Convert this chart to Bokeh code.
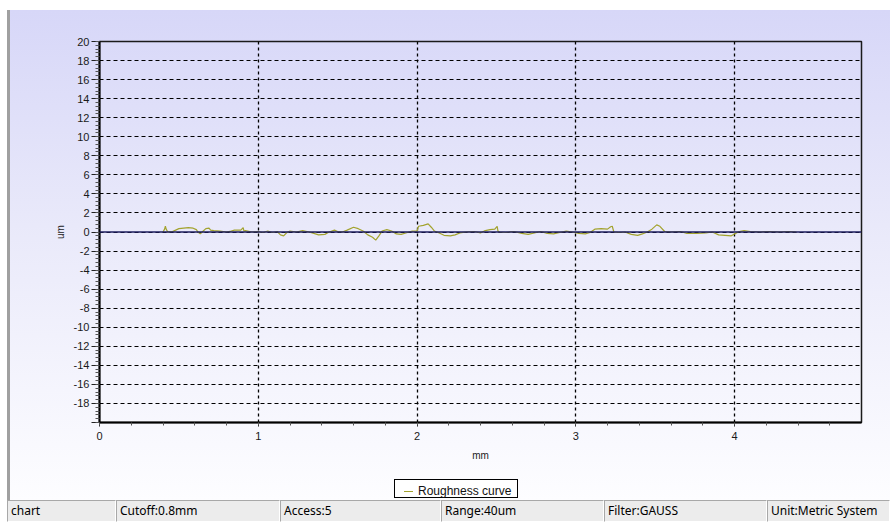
from bokeh.plotting import figure
from bokeh.models import (ColumnDataSource, FixedTicker, Span, Div, Range1d)
from bokeh.layouts import column, row
from bokeh.embed import file_html
from bokeh.resources import INLINE

# ---------------- data ----------------
x_mm = [0.40, 0.41, 0.415, 0.42, 0.43, 0.46, 0.48, 0.50, 0.53, 0.56, 0.59, 0.61, 0.62,
        0.635, 0.65, 0.67, 0.69, 0.70, 0.72, 0.76, 0.80, 0.83, 0.85, 0.89, 0.905, 0.91,
        0.92, 0.96, 1.00, 1.03, 1.06, 1.09, 1.12, 1.14, 1.16, 1.18, 1.20, 1.24, 1.28,
        1.32, 1.36, 1.38, 1.42, 1.44, 1.48, 1.50, 1.53, 1.56, 1.60, 1.63, 1.66, 1.69,
        1.72, 1.74, 1.76, 1.78, 1.81, 1.84, 1.87, 1.90, 1.93, 1.97, 2.00, 2.01, 2.04,
        2.07, 2.09, 2.11, 2.14, 2.17, 2.21, 2.24, 2.27, 2.31, 2.36, 2.40, 2.43, 2.46,
        2.49, 2.505, 2.51, 2.52, 2.56, 2.61, 2.66, 2.70, 2.74, 2.78, 2.82, 2.86, 2.90,
        2.94, 2.98, 3.02, 3.06, 3.09, 3.12, 3.16, 3.20, 3.22, 3.23, 3.24, 3.27, 3.31,
        3.35, 3.39, 3.42, 3.45, 3.48, 3.51, 3.53, 3.56, 3.60, 3.66, 3.70, 3.76, 3.82,
        3.86, 3.90, 3.94, 3.98, 4.00, 4.03, 4.06, 4.10, 4.16, 4.22, 4.28, 4.34, 4.39]
roughness_um = [0.0, 0.3, 0.6, 0.3, 0.0, 0.05, 0.2, 0.35, 0.4, 0.45, 0.4, 0.25, 0.0,
                -0.2, 0.05, 0.35, 0.4, 0.2, 0.15, 0.1, 0.0, 0.1, 0.2, 0.2, 0.45, 0.1,
                0.15, 0.0, 0.05, -0.05, 0.1, -0.05, 0.05, -0.3, -0.4, -0.05, 0.1, 0.0, 0.15,
                0.0, -0.2, -0.3, -0.25, -0.05, 0.2, 0.05, 0.0, 0.2, 0.5, 0.35, 0.1, -0.3,
                -0.55, -0.85, -0.4, 0.1, 0.25, 0.1, -0.2, -0.25, -0.1, 0.1, 0.1, 0.6, 0.7,
                0.85, 0.5, 0.1, -0.1, -0.35, -0.4, -0.3, -0.1, 0.0, 0.05, -0.1, 0.15, 0.25,
                0.3, 0.6, 0.1, 0.0, -0.05, 0.05, -0.15, -0.25, -0.1, 0.05, -0.15, -0.2, -0.05,
                0.1, 0.0, -0.15, -0.2, -0.05, 0.3, 0.35, 0.3, 0.55, 0.6, 0.0, -0.05, 0.0,
                -0.25, -0.35, -0.2, 0.0, 0.3, 0.75, 0.6, 0.05, 0.0, 0.05, -0.15, -0.15, -0.1,
                0.0, -0.3, -0.35, -0.4, -0.2, 0.05, 0.15, 0.05, 0.0, 0.05, 0.0, 0.05, 0.0]
mean_line_um = 0.0
series_name = "Roughness curve"
curve_color = "#a3a32e"

x_ticks = [0, 1, 2, 3, 4]
y_ticks = list(range(-20, 21, 2))
y_tick_labels = {t: ("" if t == -20 else str(t)) for t in y_ticks}
x_minor = [i * 0.2 for i in range(0, 25)]
y_minor = [-20 + i * 0.4 for i in range(0, 101)]

status_texts = ["", "chart", "Cutoff:0.8mm", "Access:5", "Range:40um", "Filter:GAUSS",
                "Unit:Metric System"]
status_widths = [7, 109, 164, 161, 163, 163, 123]

# ---------------- figure ----------------
p = figure(width=890, height=470, x_range=Range1d(0, 4.8), y_range=Range1d(-20, 20),
           output_backend="svg", toolbar_location=None,
           min_border_left=99, min_border_right=29, min_border_top=41,
           min_border_bottom=48)
p.border_fill_alpha = 0
p.background_fill_alpha = 0
p.outline_line_color = "#1a1a1a"
p.outline_line_width = 1.5

src = ColumnDataSource(dict(x=x_mm, y=roughness_um))
r = p.line("x", "y", source=src, line_color=curve_color, line_width=1.2)

zero = Span(location=mean_line_um, dimension="width", line_color="#1c1c5e", line_width=1.6)
p.add_layout(zero)

# axes
p.xaxis.ticker = FixedTicker(ticks=x_ticks, minor_ticks=x_minor)
p.yaxis.ticker = FixedTicker(ticks=y_ticks, minor_ticks=y_minor)
p.yaxis.major_label_overrides = y_tick_labels
for ax in (p.xaxis[0], p.yaxis[0]):
    ax.axis_line_color = "black"
    ax.axis_line_width = 2
    ax.major_tick_line_color = "#222222"
    ax.minor_tick_line_color = "#555555"
    ax.major_tick_in = 0
    ax.minor_tick_in = 0
    ax.major_label_text_font = "Liberation Sans"
    ax.major_label_text_font_size = "11px"
    ax.major_label_text_color = "#1a1a1a"
    ax.axis_label_text_font = "Liberation Sans"
    ax.axis_label_text_font_size = "10px"
    ax.axis_label_text_font_style = "normal"
    ax.axis_label_text_color = "#1a1a1a"
p.xaxis.major_tick_out = 4
p.xaxis.minor_tick_out = 3
p.xaxis.major_label_standoff = 5
p.xaxis.axis_label = "mm"
p.xaxis.axis_label_standoff = 7
p.yaxis.major_tick_out = 8
p.yaxis.minor_tick_out = 4
p.yaxis.major_label_standoff = 2
p.yaxis.axis_label = "um"
p.yaxis.axis_label_standoff = 5

# grid
p.xgrid.grid_line_color = "black"
p.xgrid.grid_line_dash = "3 3"
p.xgrid.grid_line_width = 1.3
p.ygrid.grid_line_color = "black"
p.ygrid.grid_line_dash = "4 3"
p.ygrid.grid_line_width = 1

# legend box (HTML, below the chart)
legend_html = (
    '<div style="display:flex;align-items:center;height:17px;white-space:nowrap;">'
    f'<span style="display:inline-block;width:9px;height:0;border-top:1px solid {curve_color};'
    'margin:0 5px 0 9px;"></span>'
    f'<span>{series_name}</span></div>')
legend_div = Div(text=legend_html, width=124, height=19, margin=(9, 0, 2, 0),
                 styles={"box-sizing": "border-box", "background": "#ffffff",
                         "border": "1px solid #000000",
                         "font-family": "Liberation Sans", "font-size": "12px",
                         "color": "#111111"})
legend_row = row(Div(text="", width=394, height=30, margin=0), legend_div, spacing=0)

chart = column(p, legend_row, spacing=0, width=890, height=500,
               styles={"background": (
                   "linear-gradient(#ffffff, #ffffff) 0 0 / 100% 10px no-repeat, "
                   "linear-gradient(#ffffff, #ffffff) 0 0 / 7px 100% no-repeat, "
                   "linear-gradient(#a0a0a0, #a0a0a0) 7px 0 / 3px 100% no-repeat, "
                   "linear-gradient(180deg, #d6d6f8 0%, #e9e9fa 45%, #fdfdff 100%)")})

# status bar
divs = []
for t, w in zip(status_texts, status_widths):
    first = (t == "")
    divs.append(Div(text=t, width=w, height=22, margin=0,
                    styles={"box-sizing": "border-box",
                            "background": "#ffffff" if first else "#ececec",
                            "border-style": "solid",
                            "border-width": "0px" if first else "1px",
                            "border-color": "#a8a8a8 #ffffff #ffffff #a8a8a8",
                            "font-family": "Noto Sans",
                            "font-size": "12px",
                            "line-height": "20px",
                            "padding-left": "3px",
                            "color": "#000000",
                            "overflow": "hidden",
                            "white-space": "nowrap"}))
status = row(*divs, spacing=0)
layout = column(chart, status, spacing=0)

open("out.html", "w").write(file_html(layout, INLINE))
